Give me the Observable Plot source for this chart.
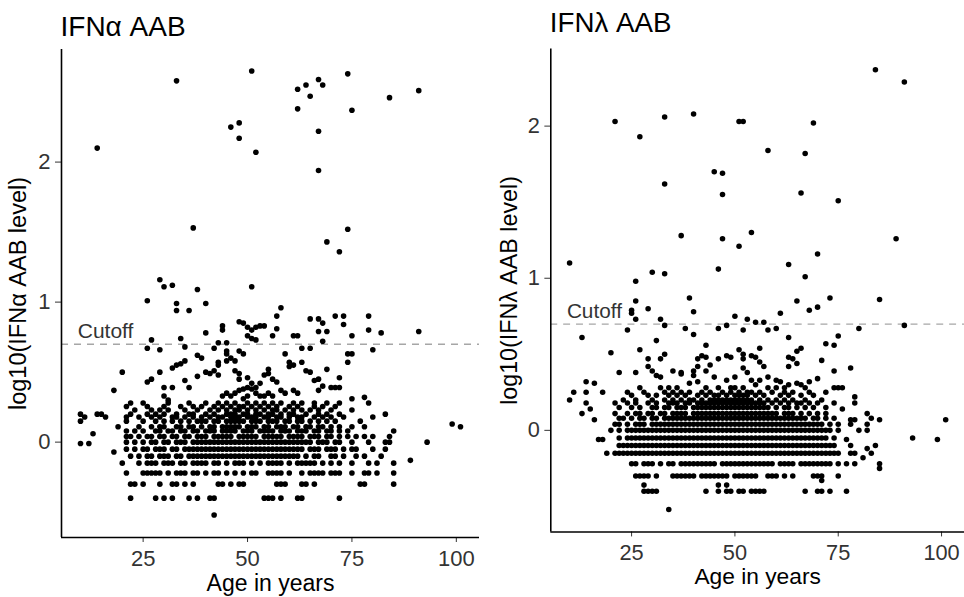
<!DOCTYPE html>
<html>
<head>
<meta charset="utf-8">
<script src="https://cdn.jsdelivr.net/npm/d3@7"></script>
<script src="https://cdn.jsdelivr.net/npm/@observablehq/plot@0.6"></script>
<style>
  body { margin: 0; background: #fff; }
  #wrap { position: relative; width: 964px; height: 597px; overflow: hidden; background: #fff; }
  .panel { position: absolute; top: 0; }
</style>
</head>
<body>
<div id="wrap">
  <div class="panel" id="left" style="left:0px"></div>
  <div class="panel" id="right" style="left:482px"></div>
</div>
<script>
// ---- tick labels / text ----
const xTicks = [25, 50, 75, 100];
const yTicks = [0, 1, 2];
const titles = ["IFNα AAB", "IFNλ AAB"];
const yLabels = ["log10(IFNα AAB level)", "log10(IFNλ AAB level)"];
const xLabel = "Age in years";
const cutoffLabel = "Cutoff";
const cutoff = [Math.log10(5)];

// ---- data: [log10 level, [ages at that level]] ----
const alphaRows = [
  [-0.52, [42]],
  [-0.40, [22,28,30,32,36,38,41,42,54,55,56,58,62,63,72]],
  [-0.30, [22,23,25,29,32,33,35,37,43,44,46,48,49,57,58,59,63,64,66,77,78,85]],
  [-0.22, [21,25,26,27,28,29,31,33,34,35,37,38,40,42,43,45,47,49,51,52,55,56,57,58,60,63,65,66,67,68,70,71,72,75,78,79,81,85]],
  [-0.15, [20,24,26,27,28,30,31,32,34,35,37,38,39,40,42,43,45,47,48,49,51,53,55,56,57,58,60,62,63,64,65,66,68,70,72,75,79,81,85]],
  [-0.13, [89]],
  [-0.10, [22,24,26,27,29,30,31,33,34,36,37,38,39,40,41,42,43,44,45,46,47,48,49,50,51,52,53,54,55,56,57,58,59,60,61,62,64,66,67,70,71,73,76,78,82]],
  [-0.07, [18]],
  [-0.05, [21,23,25,26,28,29,30,32,33,35,36,37,38,39,40,41,42,43,44,45,46,47,48,49,50,51,52,53,54,55,56,57,58,59,60,61,62,63,65,66,67,69,70,71,73,75,76,80,83]],
  [-0.01, [10,12]],
  [0.00, [21,23,25,27,28,30,31,33,34,35,37,38,39,40,41,42,43,44,45,46,47,48,49,50,51,52,53,54,55,56,57,58,59,60,61,62,63,64,65,67,68,69,71,72,75,79,83,84,93]],
  [0.04, [21,22,24,26,27,29,30,32,33,35,36,38,39,40,42,43,44,45,46,48,49,50,51,52,54,55,56,57,58,60,61,62,63,65,66,67,69,70,72,74,76,78,80,84]],
  [0.06, [13]],
  [0.08, [21,23,25,28,29,31,32,34,35,37,38,40,41,42,44,45,46,47,49,50,51,53,54,55,56,58,59,60,62,63,64,66,67,69,70,72,74,85]],
  [0.11, [19,24,27,29,30,33,34,36,37,39,41,42,44,45,46,47,48,50,51,52,54,55,57,58,59,61,62,64,65,67,68,70,72,75,78,101]],
  [0.13, [99]],
  [0.15, [10,21,25,28,30,32,34,36,38,39,40,42,43,45,46,47,48,49,51,52,53,55,56,57,59,60,62,63,65,67,69,71,77]],
  [0.18, [11,16,21,24,27,29,32,33,35,37,39,41,43,44,46,47,48,50,51,52,54,55,57,58,60,62,63,66,68,70,73,80]],
  [0.20, [10,14,15,22,26,28,30,33,36,37,40,42,45,46,47,49,50,52,53,55,56,58,60,61,64,67,69,72,83]],
  [0.23, [23,27,29,31,35,38,41,43,45,47,48,50,52,54,56,57,59,61,63,65,67,70,75]],
  [0.255, [21,26,30,34,37,39,42,44,46,48,49,51,53,55,57,60,62,66,68,71]],
  [0.28, [22,25,31,36,40,43,45,47,50,52,54,56,58,61,63,66,69,72,79]],
  [0.30, [31]],
  [0.31, [49,75]],
  [0.32, [78]],
  [0.33, [30,44,46,50,53,54,56]],
  [0.35, [45,47,52,55,59,62]],
  [0.37, [18,48,58,61,67]],
  [0.38, [49,51]],
  [0.39, [30,32,36,50,52,70,71,72]],
  [0.40, [68]],
  [0.42, [51,53]],
  [0.43, [26,57]],
  [0.44, [35,66]],
  [0.45, [27,48,56,67]],
  [0.46, [50,72]],
  [0.47, [38]],
  [0.48, [43,54]],
  [0.49, [41,48,55]],
  [0.50, [20,29,40,65]],
  [0.51, [42,47,64]],
  [0.52, [55,69]],
  [0.53, [32]],
  [0.54, [60]],
  [0.55, [33,43,61]],
  [0.56, [34]],
  [0.57, [43,60,63,74]],
  [0.58, [35,45,47]],
  [0.60, [39,46]],
  [0.62, [38]],
  [0.63, [45,49,59,74,75]],
  [0.65, [45,48]],
  [0.66, [29,80]],
  [0.67, [26,42,63,65]],
  [0.68, [35]],
  [0.71, [43,45]],
  [0.72, [68]],
  [0.73, [27,52]],
  [0.74, [34,51]],
  [0.76, [50,56,61,62,75]],
  [0.78, [40,82]],
  [0.79, [67,69,91]],
  [0.80, [44,51,79]],
  [0.81, [57]],
  [0.82, [50,52]],
  [0.83, [44,53,54]],
  [0.84, [73]],
  [0.85, [49,68]],
  [0.86, [48]],
  [0.88, [65,67]],
  [0.90, [57,71,73,79]],
  [0.94, [33,36]],
  [0.96, [58]],
  [0.99, [33,40]],
  [1.01, [26]],
  [1.09, [38]],
  [1.11, [30,51]],
  [1.12, [32]],
  [1.16, [29]],
  [1.36, [72]],
  [1.43, [69]],
  [1.52, [74]],
  [1.53, [37]],
  [1.94, [67]],
  [2.07, [52]],
  [2.10, [14]],
  [2.17, [48]],
  [2.22, [67]],
  [2.25, [46]],
  [2.28, [48]],
  [2.37, [75]],
  [2.38, [62]],
  [2.46, [84]],
  [2.47, [65]],
  [2.51, [91]],
  [2.52, [62]],
  [2.55, [64,68]],
  [2.58, [33]],
  [2.59, [67]],
  [2.63, [74]],
  [2.65, [51]]
];

const lambdaRows = [
  [-0.52, [34]],
  [-0.40, [28,29,30,31,43,46,48,49,51,52,54,55,56,57,67,70,71,73,77]],
  [-0.36, [28,46,48]],
  [-0.33, [71]],
  [-0.30, [26,27,28,29,31,35,36,37,38,39,40,42,43,44,45,46,47,48,50,51,52,53,54,55,58,59,60,62,64,69,70,71,75]],
  [-0.25, [85]],
  [-0.22, [25,26,28,29,30,32,34,35,37,38,39,40,41,42,43,44,45,47,48,49,50,51,52,53,54,55,56,57,58,59,61,62,63,64,66,67,68,69,70,71,72,73,75,77,79,85]],
  [-0.18, [81]],
  [-0.15, [19,21,22,23,24,25,26,27,28,29,30,31,32,33,34,35,36,37,38,39,40,41,42,43,44,45,46,47,48,49,50,51,52,53,54,55,56,57,58,59,60,61,62,63,64,65,66,67,68,69,70,71,72,73,74,75,78,79,83]],
  [-0.12, [82]],
  [-0.10, [22,23,24,25,26,27,28,29,30,31,32,33,34,35,36,37,38,39,40,41,42,43,44,45,46,47,48,49,50,51,52,53,54,55,56,57,58,59,60,61,62,63,64,65,66,67,68,69,70,71,72,73,74,78,84]],
  [-0.06, [17,18,77,99]],
  [-0.05, [22,24,25,26,27,28,29,30,31,32,33,34,35,36,37,38,39,40,41,42,43,44,45,46,47,48,49,50,51,52,53,54,55,56,57,58,59,60,61,62,63,64,65,66,67,68,69,70,71,72,74,93]],
  [0.00, [20,22,24,25,26,27,28,29,30,31,32,33,34,35,36,37,38,39,40,41,42,43,44,45,46,47,48,49,50,51,52,53,54,55,56,57,58,59,60,61,62,63,64,65,66,67,68,69,70,71,72,73,75,80,82]],
  [0.04, [21,22,24,26,27,28,30,31,32,33,34,35,36,37,38,39,40,41,42,43,44,45,46,47,48,49,50,51,52,53,54,55,56,57,58,59,60,61,62,63,64,65,66,67,68,69,70,71,73,75,78,82]],
  [0.07, [16,78,79,85,101]],
  [0.08, [22,23,25,27,28,30,31,33,34,35,36,37,38,39,40,41,42,43,44,45,46,47,48,49,50,51,52,53,54,55,56,57,58,59,60,61,62,63,64,65,66,67,69,70,72,74,83]],
  [0.11, [13,21,24,26,27,29,30,32,33,35,36,37,38,40,41,42,43,44,45,46,47,48,49,50,51,52,53,54,55,56,57,58,59,60,62,63,64,66,68,70,72,82]],
  [0.14, [15,76]],
  [0.15, [22,25,27,30,31,33,34,36,37,38,40,41,42,43,44,45,46,47,48,49,50,51,52,53,54,55,56,57,58,60,62,63,65,67,69,72]],
  [0.18, [14,21,24,26,29,31,34,35,36,38,39,41,42,43,44,45,46,47,48,49,50,51,52,53,54,55,56,57,59,61,63,65,66,68,70,74,79]],
  [0.20, [10,23,26,30,33,35,37,39,40,42,44,45,46,47,48,49,50,51,52,53,54,56,58,60,62,64,67,71]],
  [0.22, [79]],
  [0.23, [25,29,31,34,36,38,41,43,45,46,48,50,51,52,53,55,57,61,63,66,69]],
  [0.25, [11,14,18,24,28,33,35,37,39,42,44,47,49,51,53,54,56,59,62,64,68,72]],
  [0.28, [27,32,34,36,43,46,49,50,52,58,60,62,67,74,75,76]],
  [0.30, [55,63,66]],
  [0.31, [16,39,65]],
  [0.32, [14,41,61,68]],
  [0.33, [48,54,56,60]],
  [0.34, [70]],
  [0.35, [32,45,50,58]],
  [0.36, [31,40]],
  [0.37, [37]],
  [0.38, [22,26,37,53]],
  [0.39, [30,35,40,43,74]],
  [0.41, [52,78]],
  [0.42, [29,41,57,63]],
  [0.43, [44]],
  [0.44, [65]],
  [0.45, [56]],
  [0.46, [71]],
  [0.47, [29,32,41,46,52,64]],
  [0.48, [43,49,55,63]],
  [0.49, [42,48,54]],
  [0.50, [33,52]],
  [0.51, [20]],
  [0.52, [65]],
  [0.53, [27,51]],
  [0.54, [56,66]],
  [0.56, [43,74]],
  [0.57, [72]],
  [0.59, [31]],
  [0.61, [13,63]],
  [0.62, [75]],
  [0.63, [40]],
  [0.66, [24,52,58]],
  [0.67, [38,46,60,80]],
  [0.69, [33,48,91]],
  [0.71, [55,57]],
  [0.73, [26,32,53]],
  [0.75, [50]],
  [0.77, [25,61]],
  [0.78, [40]],
  [0.79, [25,68]],
  [0.80, [29]],
  [0.81, [70]],
  [0.85, [26,65]],
  [0.86, [85]],
  [0.87, [39,73]],
  [0.98, [26]],
  [1.01, [67]],
  [1.03, [33]],
  [1.04, [30]],
  [1.06, [46]],
  [1.09, [63]],
  [1.10, [10]],
  [1.16, [70]],
  [1.21, [51]],
  [1.26, [47,89]],
  [1.28, [37]],
  [1.30, [54]],
  [1.51, [75]],
  [1.55, [47]],
  [1.56, [66]],
  [1.62, [33]],
  [1.69, [47]],
  [1.70, [45]],
  [1.82, [67]],
  [1.84, [58]],
  [1.93, [27]],
  [2.02, [69]],
  [2.03, [21,51,52]],
  [2.06, [33]],
  [2.08, [40]],
  [2.29, [91]],
  [2.37, [84]]
];

const flatten = rows => rows.flatMap(([y, ages]) => ages.map(age => ({age, y})));

const FONT = '"Liberation Sans", Arial, Helvetica, sans-serif';
const xDomain = [5.45, 105.55];

function panel({rows, yDomain, width, marginLeft, marginRight, title, yLabel, titleDy, ylabDx}) {
  const data = flatten(rows);
  return Plot.plot({
    width, height: 597,
    marginLeft, marginRight, marginTop: 49, marginBottom: 60,
    x: {domain: xDomain},
    y: {domain: yDomain},
    style: {fontFamily: FONT, color: "#333", background: "transparent", overflow: "visible"},
    marks: [
      Plot.ruleY(cutoff, {stroke: "#a6a6a6", strokeWidth: 1.3, strokeDasharray: "7,6"}),
      Plot.dot(data, {x: "age", y: "y", r: 2.8, fill: "black"}),
      Plot.axisX({ticks: xTicks, tickFormat: d => String(d), tickSize: 5, tickPadding: 8, label: null, fontSize: 22}),
      Plot.axisY({ticks: yTicks, tickFormat: d => String(d), tickSize: 6, tickPadding: 5, label: null, fontSize: 22}),
      Plot.ruleX([xDomain[0]], {stroke: "black", strokeWidth: 1.6}),
      Plot.ruleY([yDomain[0]], {stroke: "black", strokeWidth: 1.6}),
      Plot.text([cutoffLabel], {x: 16, y: cutoff[0], dy: -6, text: d => d, textAnchor: "middle", lineAnchor: "bottom", fontSize: 21, fill: "#333"}),
      Plot.text([title], {frameAnchor: "top-left", dx: -1, dy: titleDy, text: d => d, textAnchor: "start", lineAnchor: "bottom", fontSize: 28, fill: "black"}),
      Plot.text([xLabel], {frameAnchor: "bottom", dy: 53, text: d => d, textAnchor: "middle", lineAnchor: "bottom", fontSize: 23, fill: "black"}),
      Plot.text([yLabel], {frameAnchor: "left", dx: ylabDx, rotate: -90, text: d => d, textAnchor: "middle", lineAnchor: "middle", fontSize: 23.5, fill: "black"})
    ]
  });
}

document.getElementById("left").append(panel({
  rows: alphaRows, yDomain: [-0.681, 2.804], width: 482, marginLeft: 61, marginRight: 3,
  title: titles[0], yLabel: yLabels[0], titleDy: -14, ylabDx: -43
}));
document.getElementById("right").append(panel({
  rows: lambdaRows, yDomain: [-0.668, 2.507], width: 487, marginLeft: 69, marginRight: 0,
  title: titles[1], yLabel: yLabels[1], titleDy: -17, ylabDx: -42
}));
</script>
</body>
</html>
